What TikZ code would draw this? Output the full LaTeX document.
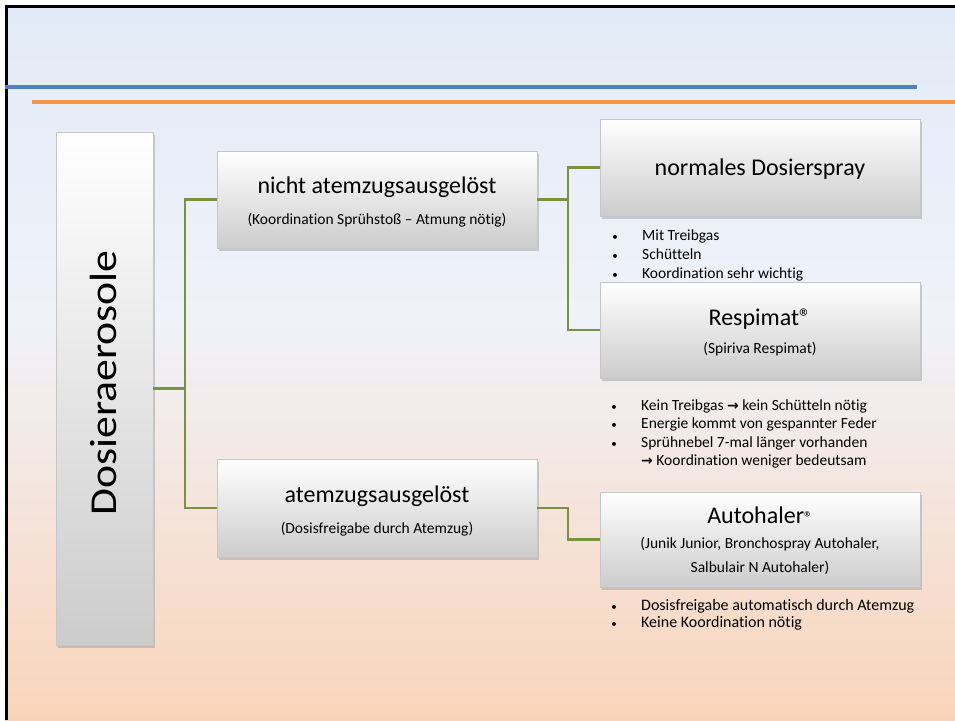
\documentclass[tikz,border=0pt]{standalone}
\usepackage{fontspec}
\setmainfont{Carlito}[Ligatures=NoCommon]
\newfontfamily\widefont{Carlito}[FakeStretch=1.15,Ligatures=NoCommon]
\newfontfamily\arrfont{DejaVu Sans Bold}
\usetikzlibrary{shadows}
\definecolor{bgtop}{RGB}{226,234,247}
\definecolor{bgmid}{RGB}{240,242,249}
\definecolor{bgbot}{RGB}{249,212,186}
\definecolor{lineblue}{RGB}{79,129,189}
\definecolor{lineorange}{RGB}{247,150,70}
\definecolor{conncol}{RGB}{119,147,60}
\definecolor{boxbot}{RGB}{204,204,204}
\newcommand{\fs}[1]{\fontsize{#1}{#1}\selectfont}
\newcommand{\rarr}{{\arrfont\fs{14}→}}
\tikzset{
  box/.style={draw=gray!45, line width=0.6pt, top color=white, bottom color=boxbot,
    drop shadow={shadow xshift=2pt, shadow yshift=-2.5pt, opacity=0.35, fill=gray},
    inner sep=0pt},
  conn/.style={draw=conncol, line width=2.4pt},
  title/.style={inner sep=0pt, anchor=base, font=\fs{24}},
  sub/.style={inner sep=0pt, anchor=base, font=\fs{15.5}},
  bul/.style={inner sep=0pt, anchor=base west, font=\fs{15.5}},
  bulc/.style={bul, font=\fs{16}},
  dot/.style={inner sep=0pt, anchor=base, font=\fs{11}}
}
\begin{document}
\begin{tikzpicture}[x=1pt,y=-1pt]
\useasboundingbox (0,0) rectangle (955,720);
\fill[white] (0,0) rectangle (955,720);
\shade[top color=bgtop, bottom color=bgmid] (5,5) rectangle (955,320.5);
\shade[top color=bgmid, bottom color=bgbot] (5,320) rectangle (955,720);
\draw[black, line width=3pt] (5,6) -- (955,6);
\draw[black, line width=3pt] (6,5) -- (6,720);
\draw[lineblue, line width=4pt] (5,87) -- (917,87);
\draw[lineorange, line width=3.5pt] (32,102) -- (955,102);

% boxes
\node[box, minimum width=97pt, minimum height=513pt] (dose) at (104.5,388.5) {};
\node[box, minimum width=320pt, minimum height=97pt] (nicht) at (377,199.5) {};
\node[box, minimum width=320pt, minimum height=98pt] (atem) at (377,508) {};
\node[box, minimum width=320pt, minimum height=97pt] (normal) at (760,167.5) {};
\node[box, minimum width=320pt, minimum height=96pt] (resp) at (760,330) {};
\node[box, minimum width=320pt, minimum height=95pt] (auto) at (760,539.5) {};

% connectors
\coordinate (j1) at (185,388.5);
\coordinate (j2) at (568,199.5);
\coordinate (j3) at (568,508);
\draw[conn] (dose.east) -- (j1);
\draw[conn] (nicht.west) -| (j1) |- (atem.west);
\draw[conn] (nicht.east) -- (j2);
\draw[conn] (normal.west) -| (j2) |- (resp.west);
\draw[conn] (atem.east) -- (j3) |- (auto.west);

% texts
\node[inner sep=0pt, anchor=base, rotate=90, font=\widefont\fs{38}] (tdose) at (116,383) {Dosieraerosole};
\node[title] (tn1) at (377,193) {nicht atemzugsausgelöst};
\node[sub] (tn2) at (377,224) {(Koordination Sprühstoß – Atmung nötig)};
\node[title] (ta1) at (377,502) {atemzugsausgelöst};
\node[sub] (ta2) at (377,533) {(Dosisfreigabe durch Atemzug)};
\node[title] (tnorm) at (760,175) {normales Dosierspray};
\node[title] (tr1) at (760,325) {Respimat®};
\node[sub] (tr2) at (760,353) {(Spiriva Respimat)};
\node[title] (tau1) at (760,523) {Autohaler{\fs{17}®}};
\node[sub] (tau2) at (760,548) {(Junik Junior, Bronchospray Autohaler,};
\node[sub] (tau3) at (760,572) {Salbulair N Autohaler)};

% bullets normal
\node[dot] (d1) at (615,240) {•};
\node[bul] (b1) at (642,240) {Mit Treibgas};
\node[dot] (d2) at (615,259) {•};
\node[bul] (b2) at (642,259) {Schütteln};
\node[dot] (d3) at (615,278) {•};
\node[bul] (b3) at (642,278) {Koordination sehr wichtig};
% bullets respimat
\node[dot] (d4) at (614,410) {•};
\node[bul] (b4) at (641,410) {Kein Treibgas \rarr{} kein Schütteln nötig};
\node[dot] (d5) at (614,428) {•};
\node[bul] (b5) at (641,428) {Energie kommt von gespannter Feder};
\node[dot] (d6) at (614,447) {•};
\node[bul] (b6) at (641,447) {Sprühnebel 7-mal länger vorhanden};
\node[bul] (b7) at (641,465) {\rarr{} Koordination weniger bedeutsam};
% bullets autohaler
\node[dot] (d8) at (614,610) {•};
\node[bulc] (b8) at (641,610) {Dosisfreigabe automatisch durch Atemzug};
\node[dot] (d9) at (614,627) {•};
\node[bulc] (b9) at (641,627) {Keine Koordination nötig};
\end{tikzpicture}
\end{document}
